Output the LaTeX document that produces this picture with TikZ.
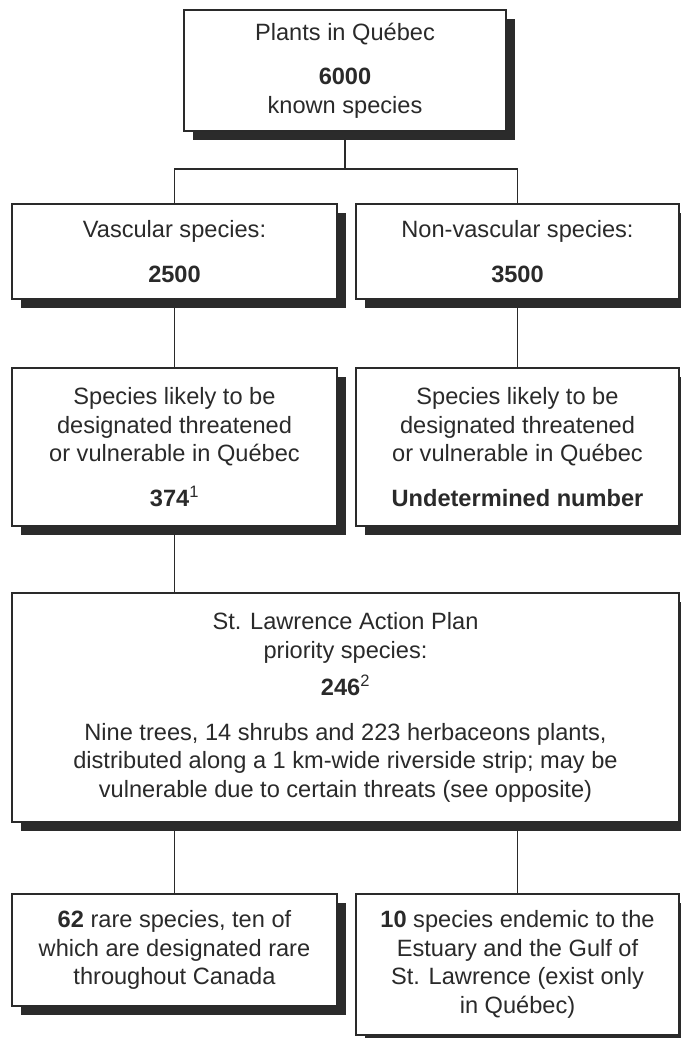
\documentclass[tikz,border=0pt]{standalone}
\usepackage{fontspec}
\setmainfont{Liberation Sans}
\usetikzlibrary{shadows,backgrounds}
\definecolor{ink}{HTML}{2A2A2A}
\definecolor{shade}{HTML}{2B2B2B}
\tikzset{
  box/.style={draw=ink, line width=1.4pt, fill=white, inner sep=0pt, align=center,
    text=ink, font=\fontsize{23.6}{28.5}\selectfont,
    drop shadow={shadow xshift=9pt, shadow yshift=-9pt, fill=shade, opacity=1}},
  link/.style={draw=ink, line width=1.4pt}
}
\newcommand{\supnum}[1]{\textsuperscript{\mdseries #1}}
\begin{document}
\begin{tikzpicture}[x=1pt,y=-1pt]
\useasboundingbox (0,0) rectangle (680,1038);
% boxes
\node[box, minimum width=322pt, minimum height=121pt] (top) at (345,70.5)
  {Plants in Québec\\[16pt]\textbf{6000}\\known species};
\node[box, minimum width=325pt, minimum height=95pt] (r2L) at (174.5,251.5)
  {Vascular species:\\[16pt]\textbf{2500}};
\node[box, minimum width=323pt, minimum height=95pt] (r2R) at (517.5,251.5)
  {Non-vascular species:\\[16pt]\textbf{3500}};
\node[box, minimum width=325pt, minimum height=158pt] (r3L) at (174.5,447)
  {Species likely to be\\designated threatened\\or vulnerable in Québec\\[16pt]\textbf{374}\supnum{1}};
\node[box, minimum width=323pt, minimum height=158pt] (r3R) at (517.5,447)
  {Species likely to be\\designated threatened\\or vulnerable in Québec\\[16pt]\textbf{Undetermined number}};
\node[box, minimum width=667pt, minimum height=229pt] (r4) at (345.5,707.5)
  {St. Lawrence Action Plan\\priority species:\\[9pt]\textbf{246}\supnum{2}\\[16pt]Nine trees, 14 shrubs and 223 herbaceons plants,\\distributed along a 1 km-wide riverside strip; may be\\vulnerable due to certain threats (see opposite)};
\node[box, minimum width=325pt, minimum height=112pt] (r5L) at (174.5,950)
  {\textbf{62} rare species, ten of\\which are designated rare\\throughout Canada};
\node[box, minimum width=323pt, minimum height=141pt] (r5R) at (517.5,964.5)
  {\textbf{10} species endemic to the\\Estuary and the Gulf of\\St. Lawrence (exist only\\in Québec)};
% connectors (behind boxes)
\coordinate (j) at (345,169);
\begin{scope}[on background layer]
\fill[white] (0,0) rectangle (680,1038);
\draw[link] (top.south) -- (j);
\draw[link] (r2L.north) |- (j) -| (r2R.north);
\draw[link] (r2L.south) -- (r3L.north);
\draw[link] (r2R.south) -- (r3R.north);
\draw[link] (r3L.south) -- (r3L.south |- r4.north);
\draw[link] (r5L.north) -- (r5L.north |- r4.south);
\draw[link] (r5R.north) -- (r5R.north |- r4.south);
\end{scope}
\end{tikzpicture}
\end{document}
